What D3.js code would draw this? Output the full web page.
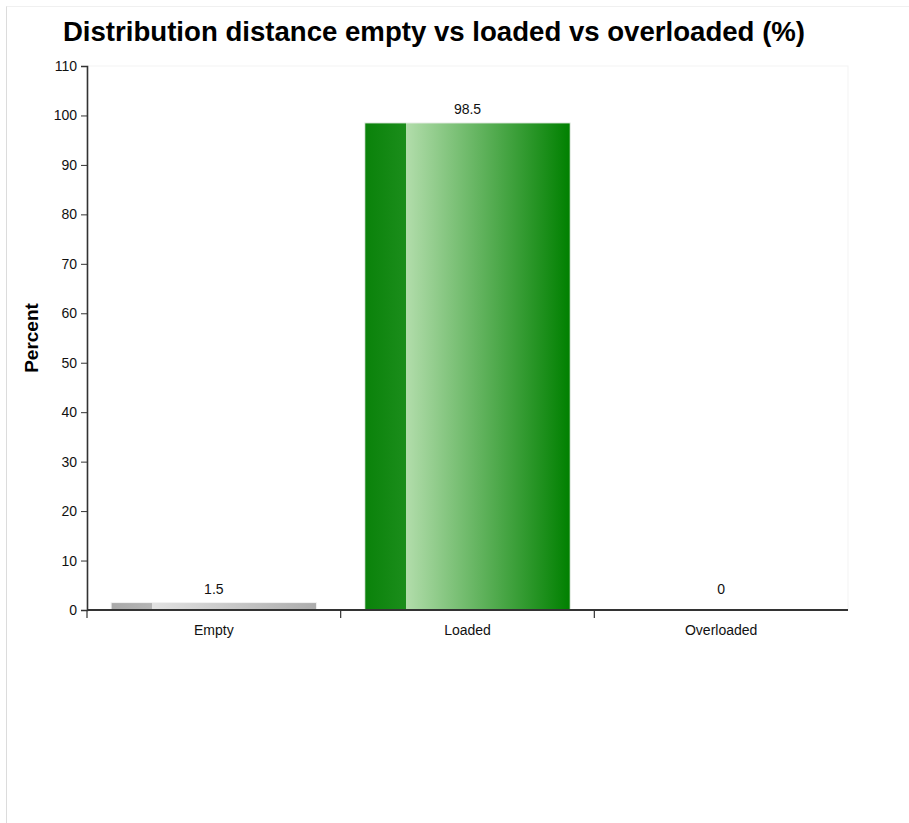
<!DOCTYPE html>
<html>
<head>
<meta charset="utf-8">
<script src="https://cdn.jsdelivr.net/npm/d3@7"></script>
<style>
  html, body { margin: 0; padding: 0; background: #fff; }
  #frame {
    position: absolute; left: 6px; top: 6px; width: 920px; height: 840px;
    border-left: 1px solid #dcdcdc; border-top: 1px solid #f0f0f0;
    box-sizing: border-box;
  }
  svg { position: absolute; left: 0; top: 0; font-family: "Liberation Sans", Arial, sans-serif; }
</style>
</head>
<body>
<div id="frame"></div>
<svg id="chart" width="909" height="823"></svg>
<script>
// Share of distance travelled per load state
const categories = ["Empty", "Loaded", "Overloaded"];
const percents = [1.5, 98.5, 0];
const yTicks = [0, 10, 20, 30, 40, 50, 60, 70, 80, 90, 100, 110];
const barPalettes = [
  { dark: "#a9a9a9", darkEdge: "#b4b4b4", light: "#e2e2e2", end: "#acacac" },
  { dark: "#0a820a", darkEdge: "#1b8d1b", light: "#b2ddab", end: "#008000" },
  { dark: "#cc3333", darkEdge: "#d04040", light: "#f0b0b0", end: "#cc0000" }
];

const svg = d3.select("#chart");
const margin = { left: 87, right: 61, top: 66, bottom: 213 };
const W = 909, H = 823;
const x0 = margin.left, x1 = W - margin.right;
const y0 = H - margin.bottom, y1 = margin.top;

const x = d3.scaleBand().domain(categories).range([x0, x1]).padding(0);
const y = d3.scaleLinear().domain([0, 110]).range([y0, y1]);

// gradients for the bars
const defs = svg.append("defs");
barPalettes.forEach((p, i) => {
  const g = defs.append("linearGradient").attr("id", "grad" + i)
    .attr("x1", "0%").attr("x2", "100%").attr("y1", "0%").attr("y2", "0%");
  g.append("stop").attr("offset", "0%").attr("stop-color", p.dark);
  g.append("stop").attr("offset", "20%").attr("stop-color", p.darkEdge);
  g.append("stop").attr("offset", "20%").attr("stop-color", p.light);
  g.append("stop").attr("offset", "100%").attr("stop-color", p.end);
});

// faint plot frame
svg.append("rect")
  .attr("x", x0).attr("y", y1).attr("width", x1 - x0).attr("height", y0 - y1)
  .attr("fill", "#fff").attr("stroke", "#f3f3f3");

// title
svg.append("text")
  .attr("x", 434).attr("y", 41)
  .attr("text-anchor", "middle")
  .attr("font-size", 27.6).attr("font-weight", "bold").attr("fill", "#000")
  .text("Distribution distance empty vs loaded vs overloaded (%)");

// bars
const inset = x.bandwidth() * 0.095;
svg.append("g").selectAll("rect").data(categories).join("rect")
  .attr("x", d => x(d) + inset)
  .attr("width", x.bandwidth() - 2 * inset)
  .attr("y", (d, i) => y(percents[i]))
  .attr("height", (d, i) => y(0) - y(percents[i]))
  .attr("fill", (d, i) => `url(#grad${i})`)
  .attr("stroke", "#f2f2f2").attr("stroke-width", 1);

// value labels, kept clear of the baseline for very short bars
svg.append("g").selectAll("text").data(categories).join("text")
  .attr("x", d => x(d) + x.bandwidth() / 2)
  .attr("y", (d, i) => Math.min(y(percents[i]), y(0) - 7) - 9)
  .attr("text-anchor", "middle")
  .attr("font-size", 14).attr("fill", "#111")
  .text((d, i) => percents[i]);

// y axis
const yAxis = svg.append("g").attr("transform", `translate(${x0},0)`)
  .call(d3.axisLeft(y).tickValues(yTicks).tickSize(6).tickPadding(4));
yAxis.attr("font-size", 14).attr("font-family", "Liberation Sans, Arial, sans-serif");
yAxis.select(".domain").attr("stroke", "#333").attr("stroke-width", 1.6);
yAxis.selectAll(".tick line").attr("stroke", "#333");
yAxis.selectAll(".tick text").attr("font-size", 14).attr("fill", "#111");

// x axis: baseline, ticks at band boundaries, centred labels
const xAxis = svg.append("g");
xAxis.append("line")
  .attr("x1", x0).attr("x2", x1).attr("y1", y0).attr("y2", y0)
  .attr("stroke", "#333").attr("stroke-width", 2);
xAxis.selectAll(".xt").data(categories).join("line").attr("class", "xt")
  .attr("x1", d => x(d)).attr("x2", d => x(d))
  .attr("y1", y0).attr("y2", y0 + 8)
  .attr("stroke", "#333").attr("stroke-width", 1.2);
xAxis.selectAll(".xl").data(categories).join("text").attr("class", "xl")
  .attr("x", d => x(d) + x.bandwidth() / 2)
  .attr("y", y0 + 25)
  .attr("text-anchor", "middle")
  .attr("font-size", 14).attr("fill", "#111")
  .text(d => d);

// y axis title
svg.append("text")
  .attr("transform", `translate(38,${(y0 + y1) / 2}) rotate(-90)`)
  .attr("text-anchor", "middle")
  .attr("font-size", 19).attr("font-weight", "bold").attr("fill", "#000")
  .text("Percent");
</script>
</body>
</html>
